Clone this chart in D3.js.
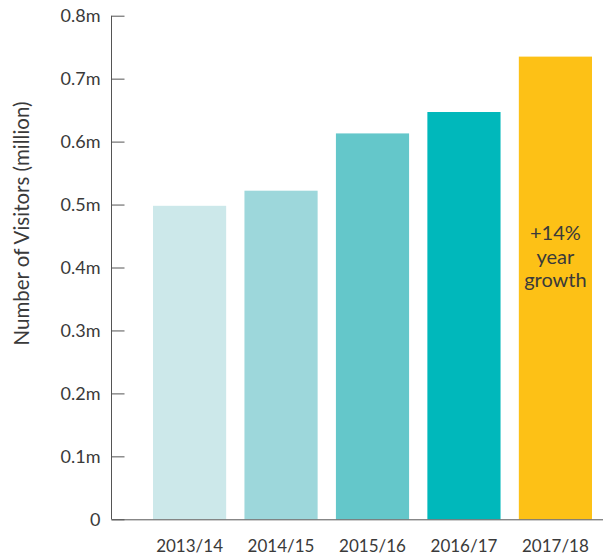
<!DOCTYPE html>
<html>
<head>
<meta charset="utf-8">
<script src="https://cdn.jsdelivr.net/npm/d3@7"></script>
<style>
  html, body { margin: 0; padding: 0; background: #fff; }
  svg { display: block; }
  text { font-family: Lato, "Open Sans", sans-serif; fill: #3a3a3a; }
</style>
</head>
<body>
<svg id="chart" width="604" height="557"></svg>
<script>
// Visitors per financial year (millions)
const years = ["2013/14", "2014/15", "2015/16", "2016/17", "2017/18"];
const visitors = [0.498, 0.522, 0.613, 0.647, 0.735];
const barColors = ["#cce8ea", "#9dd7db", "#64c7ca", "#00b8bb", "#fdc116"];
const yTicks = [0, 0.1, 0.2, 0.3, 0.4, 0.5, 0.6, 0.7, 0.8];
const yTickLabels = ["0", "0.1m", "0.2m", "0.3m", "0.4m", "0.5m", "0.6m", "0.7m", "0.8m"];
const growthNote = ["+14%", "year", "growth"];

const svg = d3.select("#chart");

const x = d3.scaleBand()
  .domain(years)
  .range([153, 592])
  .paddingInner(0.2)
  .paddingOuter(0);

const y = d3.scaleLinear()
  .domain([0, 0.8])
  .range([519.3, 15.7]);

// Bars
svg.append("g")
  .selectAll("rect")
  .data(years)
  .join("rect")
  .attr("x", d => x(d))
  .attr("width", x.bandwidth())
  .attr("y", (d, i) => y(visitors[i]))
  .attr("height", (d, i) => y(0) - y(visitors[i]))
  .attr("fill", (d, i) => barColors[i]);

// Y axis with inward ticks
const yAxis = svg.append("g")
  .attr("transform", "translate(111.5,0)")
  .call(d3.axisLeft(y)
    .tickValues(yTicks)
    .tickFormat((d, i) => yTickLabels[i])
    .tickSize(-13)
    .tickPadding(11));
yAxis.select(".domain").attr("stroke", "#555").attr("d", `M0,${y(0.8)}V${y(0)}`);
yAxis.selectAll(".tick line").attr("stroke", "#555");
yAxis.selectAll(".tick text")
  .style("font-size", "18px")
  .attr("fill", "#3a3a3a");

// X axis baseline and category labels
svg.append("line")
  .attr("x1", 111.5).attr("x2", 603)
  .attr("y1", y(0) + 0.5).attr("y2", y(0) + 0.5)
  .attr("stroke", "#555");

svg.append("g")
  .selectAll("text")
  .data(years)
  .join("text")
  .attr("x", d => x(d) + x.bandwidth() / 2)
  .attr("y", 552)
  .attr("text-anchor", "middle")
  .style("font-size", "17px")
  .text(d => d);

// Y axis title
svg.append("text")
  .attr("transform", "translate(29,223.5) rotate(-90)")
  .attr("text-anchor", "middle")
  .style("font-size", "20.5px")
  .text("Number of Visitors (million)");

// Growth annotation inside the latest bar
const last = years[years.length - 1];
svg.append("g")
  .selectAll("text")
  .data(growthNote)
  .join("text")
  .attr("x", x(last) + x.bandwidth() / 2)
  .attr("y", (d, i) => 240 + i * 23.5)
  .attr("text-anchor", "middle")
  .style("font-size", "20px")
  .attr("fill", "#333")
  .text(d => d);
</script>
</body>
</html>
